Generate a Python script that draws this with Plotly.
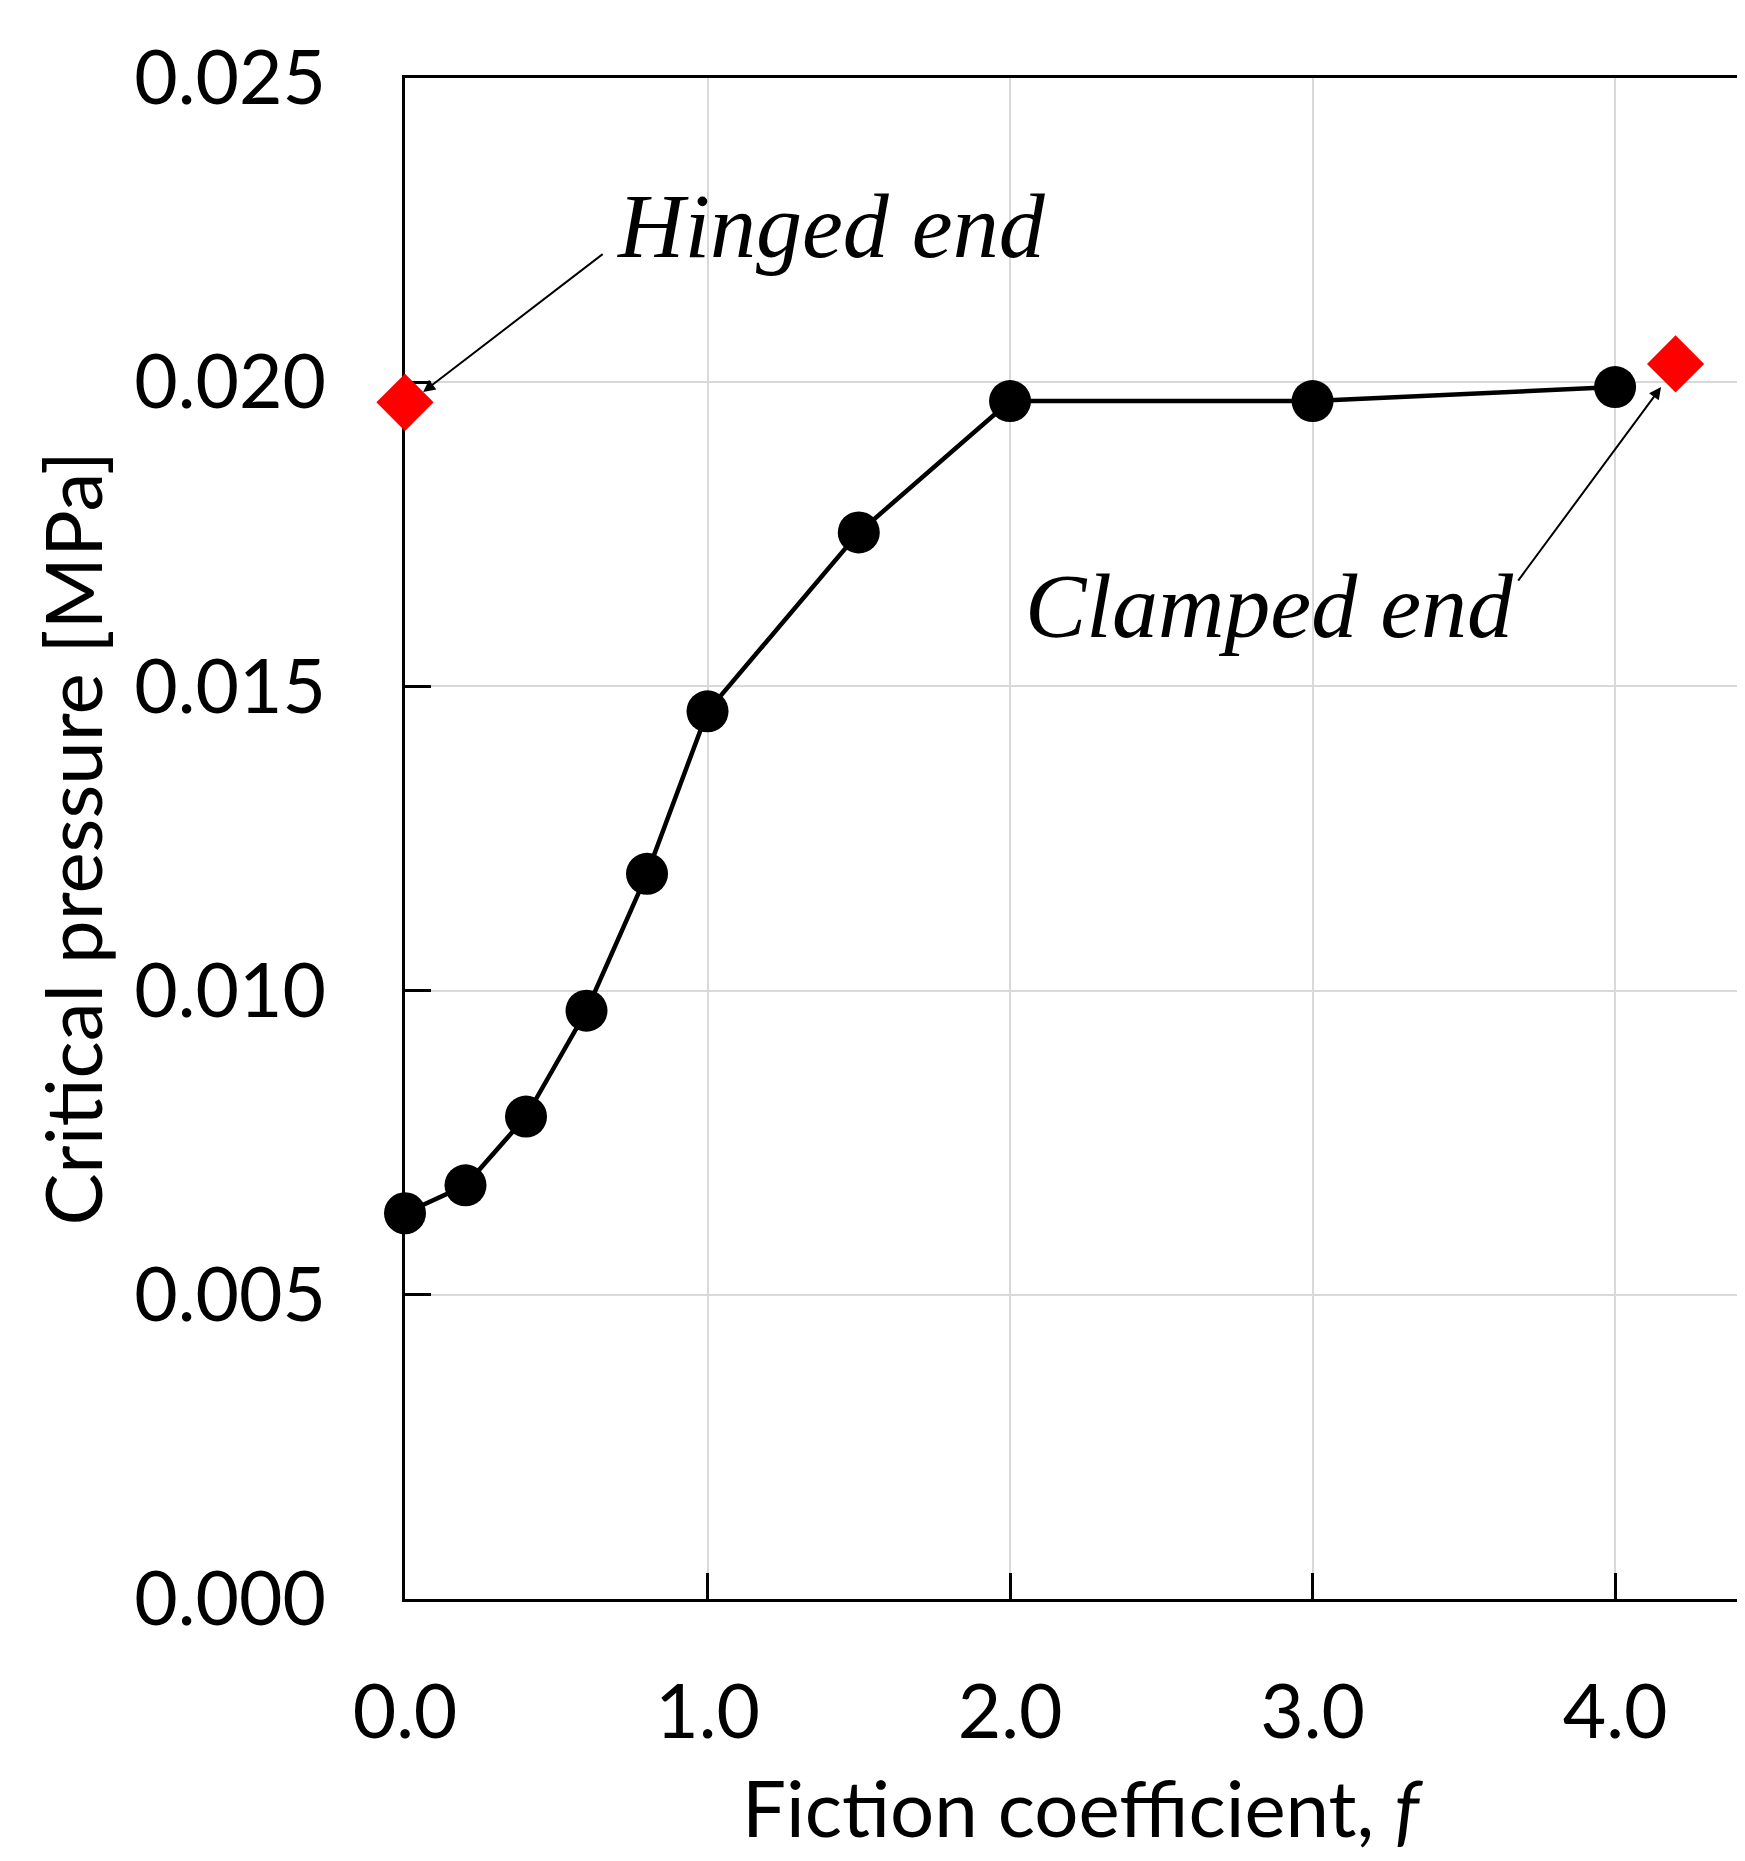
import plotly.graph_objects as go

# ---- data ----
friction = [0.0, 0.2, 0.4, 0.6, 0.8, 1.0, 1.5, 2.0, 3.0, 4.0]
pressure = [0.00634, 0.00680, 0.00793, 0.00967, 0.01192, 0.01459, 0.01753, 0.01969, 0.01969, 0.01992]
end_x = [0.0, 4.2]
end_p = [0.01967, 0.02030]
end_labels = ["Hinged end", "Clamped end"]
x_tickvals = [0.0, 1.0, 2.0, 3.0, 4.0]
x_ticktext = ["0.0", "1.0", "2.0", "3.0", "4.0"]
y_tickvals = [0.000, 0.005, 0.010, 0.015, 0.020, 0.025]
y_ticktext = ["0.000", "0.005", "0.010", "0.015", "0.020", "0.025"]
x_title = "Fiction coefficient, <i>f</i>"
y_title = "Critical pressure [MPa]"

FONT = "Lato"
FS = 75
TFS = 78

fig = go.Figure()
fig.add_trace(go.Scatter(
    x=friction, y=pressure, mode="lines+markers",
    line=dict(color="black", width=4.5),
    marker=dict(symbol="circle", size=42, color="black"),
    cliponaxis=False, showlegend=False,
))
fig.add_trace(go.Scatter(
    x=end_x, y=end_p, mode="markers",
    marker=dict(symbol="diamond", size=44, color="#ff0000"),
    cliponaxis=False, showlegend=False,
))

axis_common = dict(
    showgrid=True, gridcolor="#d9d9d9", gridwidth=2,
    zeroline=False, showline=True, linecolor="black", linewidth=3,
    ticks="inside", ticklen=26, tickwidth=3, tickcolor="black",
    tickfont=dict(family=FONT, size=FS, color="black"),
    layer="below traces",
)

fig.update_xaxes(range=[0, 4.403], tickvals=x_tickvals, ticktext=x_ticktext,
                 mirror=True, ticklabelstandoff=46, **axis_common)
fig.update_yaxes(range=[0, 0.025], tickvals=y_tickvals, ticktext=y_ticktext,
                 ticklabelstandoff=61, **axis_common)

ann_font = dict(family="Liberation Serif", size=92, color="black")
fig.add_annotation(x=0.694, y=0.02257, xref="x", yref="y", text="<i>%s</i>" % end_labels[0],
                   showarrow=False, xanchor="left", yanchor="middle", font=ann_font)
fig.add_annotation(x=2.043, y=0.01632, xref="x", yref="y", text="<i>%s</i>" % end_labels[1],
                   showarrow=False, xanchor="left", yanchor="middle", font=ann_font)
fig.add_annotation(x=0.06, y=0.01984, xref="x", yref="y", text="", showarrow=True,
                   ax=181, ay=-139, arrowhead=2, arrowsize=1.2, arrowwidth=2,
                   arrowcolor="black", standoff=0)
fig.add_annotation(x=4.152, y=0.01992, xref="x", yref="y", text="", showarrow=True,
                   ax=-144, ay=195, arrowhead=2, arrowsize=1.2, arrowwidth=2,
                   arrowcolor="black", standoff=0)

# axis titles
fig.add_annotation(x=2.241, y=0, xref="x", yref="paper", text=x_title, showarrow=False,
                   xanchor="center", yanchor="middle", yshift=-208,
                   font=dict(family=FONT, size=TFS, color="black"))
fig.add_annotation(x=0, y=0.5, xref="paper", yref="paper", text=y_title, showarrow=False,
                   xanchor="center", yanchor="middle", xshift=-334, textangle=-90,
                   font=dict(family=FONT, size=TFS, color="black"))

# page body has an 8px default margin: size the figure so it fits the window without scrolling
fig.update_layout(
    width=1729, height=1845,
    margin=dict(l=397, r=0, t=70, b=254, pad=0),
    paper_bgcolor="white", plot_bgcolor="white",
    showlegend=False,
)

fig.write_html("out.html")
